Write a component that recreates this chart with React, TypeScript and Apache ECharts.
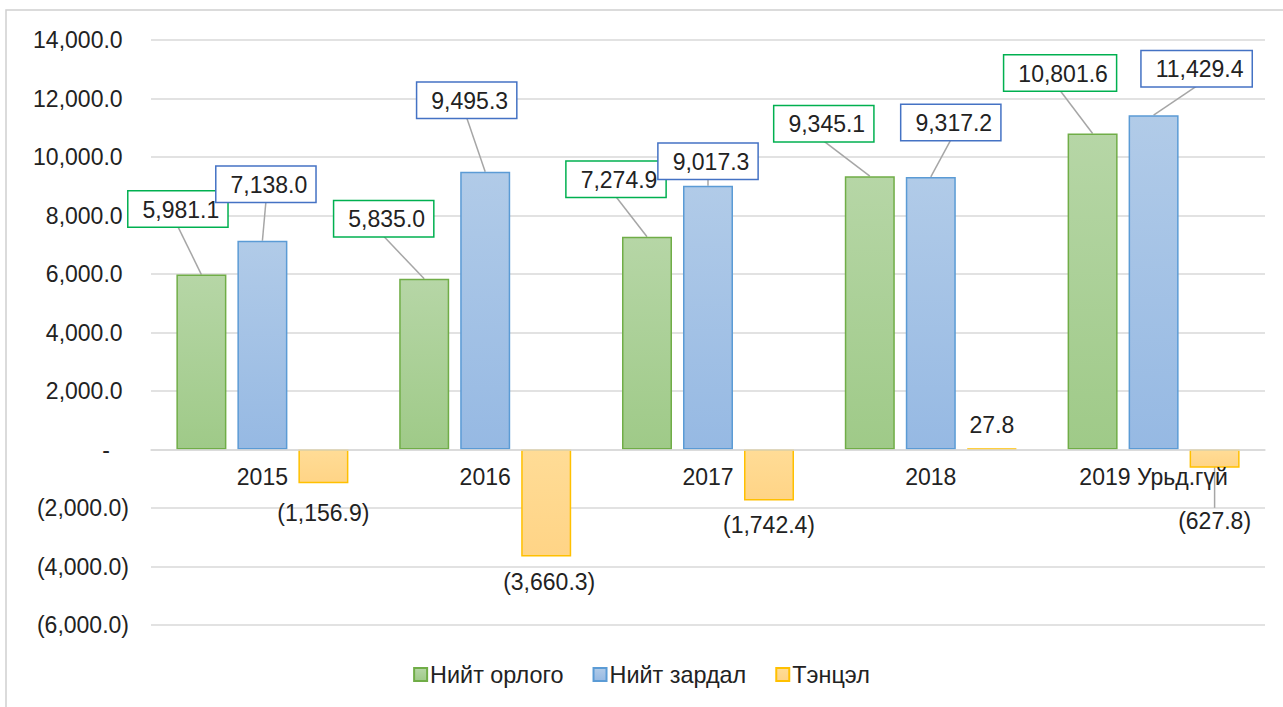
import React, { useEffect, useRef } from 'react';
import * as echarts from 'echarts';

const categories = ['2015', '2016', '2017', '2018', '2019 Урьд.гүй'];
const seriesNames = ['Нийт орлого', 'Нийт зардал', 'Тэнцэл'];
const income = [5981.1, 5835.0, 7274.9, 9345.1, 10801.6];
const expense = [7138.0, 9495.3, 9017.3, 9317.2, 11429.4];
const balance = [-1156.9, -3660.3, -1742.4, 27.8, -627.8];
const yMin = -6000;
const yMax = 14000;
const yStep = 2000;

// label offsets (pixels) from each label's default spot
const incomeShift = [[-23.5, -43], [-40.5, -37.5], [-31, -35], [-46, -30], [-32.5, -38]];
const expenseShift = [[3.5, -34], [-18.5, -49], [0, -2], [20, -32], [43, -24]];
const balanceShift = [[0, 12], [3, 7], [0, 6.5], [0, -5], [0, 35]];

const FONT = '"Liberation Sans", Arial, sans-serif';
const NB = '\u00A0';
const BAR_W = 50;
const BAR_GAP = 11;
const LABEL_DIST = 5;
const GRID_TOP = 40;
const GRID_BOTTOM = 82;
const H = 707;

function fmt(v: number): string {
  const s = Math.abs(v).toLocaleString('en-US', { minimumFractionDigits: 1, maximumFractionDigits: 1 });
  return v < 0 ? '(' + s + ')' : s;
}
function axisFmt(v: number): string {
  if (v === 0) return '-' + NB + NB + NB;
  return v < 0 ? fmt(v) : fmt(v) + NB;
}

export default function App() {
  const ref = useRef<HTMLDivElement>(null);
  useEffect(() => {
    if (!ref.current) return;
    const chart = echarts.init(ref.current, null, { renderer: 'svg' });
    const grad = (a: string, b: string) =>
      new echarts.graphic.LinearGradient(0, 0, 0, 1, [
        { offset: 0, color: a },
        { offset: 1, color: b },
      ]);
    const boxLabel = (border: string) => ({
      show: true,
      position: 'top',
      distance: LABEL_DIST,
      formatter: (p: any) => fmt(p.value),
      fontSize: 23,
      lineHeight: 26,
      color: '#222',
      fontFamily: FONT,
      backgroundColor: '#fff',
      borderColor: border,
      borderWidth: 1.5,
      padding: [5, 8, 4, 14],
    });
    const shifts = [incomeShift, expenseShift, balanceShift];
    const plotH = H - GRID_TOP - GRID_BOTTOM;
    const zeroOffset = -plotH * (0 - yMin) / (yMax - yMin);

    // leader lines: from label box bottom centre to bar top centre
    const leaderData: number[][] = [];
    [income, expense].forEach((arr, s) =>
      arr.forEach((v, i) => leaderData.push([i, v, s, shifts[s][i][0], shifts[s][i][1]]))
    );

    chart.setOption({
      animation: false,
      textStyle: { fontFamily: FONT },
      graphic: [
        {
          type: 'rect',
          shape: { x: 6, y: 10, width: 1300, height: 720 },
          style: { fill: 'none', stroke: '#d0d0d0', lineWidth: 1.5 },
          silent: true,
          z: -10,
        },
      ],
      grid: { left: 151, right: 18, top: GRID_TOP, bottom: GRID_BOTTOM, containLabel: false },
      legend: {
        data: seriesNames,
        left: 'center',
        top: 658,
        icon: 'rect',
        itemWidth: 13,
        itemHeight: 13,
        itemGap: 29,
        textStyle: { fontSize: 23.4, color: '#222', fontFamily: FONT, padding: [0, 0, 0, -2] },
      },
      xAxis: {
        type: 'category',
        data: categories,
        offset: zeroOffset,
        axisLine: { onZero: false, lineStyle: { color: '#d9d9d9', width: 1.5 } },
        axisTick: { show: false },
        axisLabel: { interval: 0, fontSize: 23, color: '#222', margin: 16, fontFamily: FONT },
        z: 5,
      },
      yAxis: {
        type: 'value',
        min: yMin,
        max: yMax,
        interval: yStep,
        axisLine: { show: false },
        axisTick: { show: false },
        splitLine: { lineStyle: { color: '#d9d9d9', width: 1.5 } },
        axisLabel: { fontSize: 23, color: '#222', margin: 22, formatter: axisFmt, fontFamily: FONT },
      },
      labelLayout: (p: any) => {
        const s = shifts[p.seriesIndex];
        if (!s) return {};
        const d = s[p.dataIndex];
        return { dx: d[0], dy: d[1], hideOverlap: false };
      },
      series: [
        {
          name: seriesNames[0],
          type: 'bar',
          data: income,
          barWidth: BAR_W,
          barGap: (BAR_GAP / BAR_W) * 100 + '%',
          itemStyle: { color: grad('#b6d6a6', '#9fca88'), borderColor: '#70ad47', borderWidth: 1.5 },
          label: boxLabel('#00b050'),
          z: 3,
        },
        {
          name: seriesNames[1],
          type: 'bar',
          data: expense,
          barWidth: BAR_W,
          barGap: (BAR_GAP / BAR_W) * 100 + '%',
          itemStyle: { color: grad('#b1cbe8', '#96b9e3'), borderColor: '#5b9bd5', borderWidth: 1.5 },
          label: boxLabel('#4472c4'),
          z: 3,
        },
        {
          name: seriesNames[2],
          type: 'bar',
          data: balance.map((v, i) => {
            const item: any = { value: v, label: { position: v >= 0 ? 'top' : 'bottom' } };
            if (i === balance.length - 1) {
              item.labelLine = { show: true, lineStyle: { color: '#a6a6a6', width: 1.5 } };
            }
            return item;
          }),
          barWidth: BAR_W,
          barGap: (BAR_GAP / BAR_W) * 100 + '%',
          itemStyle: { color: grad('#ffdc96', '#ffd486'), borderColor: '#ffc000', borderWidth: 1.5 },
          label: {
            show: true,
            distance: LABEL_DIST,
            formatter: (p: any) => fmt(p.value),
            fontSize: 23,
            lineHeight: 26,
            color: '#222',
            fontFamily: FONT,
          },
          z: 3,
        },
        {
          type: 'custom',
          silent: true,
          z: 2,
          data: leaderData,
          encode: { x: 0, y: 1 },
          renderItem: (params: any, api: any) => {
            const p = api.coord([api.value(0), api.value(1)]);
            const s = api.value(2);
            const bx = p[0] + (s - 1) * (BAR_W + BAR_GAP);
            const by = p[1];
            const lx = bx + api.value(3);
            const ly = by - LABEL_DIST + api.value(4);
            return {
              type: 'line',
              shape: { x1: lx, y1: ly, x2: bx, y2: by },
              style: { stroke: '#a6a6a6', lineWidth: 1.5 },
            };
          },
        },
      ],
    });
    return () => chart.dispose();
  }, []);
  return (
    <div
      ref={ref}
      style={{ position: 'fixed', left: 0, top: 0, width: 1283, height: 707, background: '#fff' }}
    />
  );
}
